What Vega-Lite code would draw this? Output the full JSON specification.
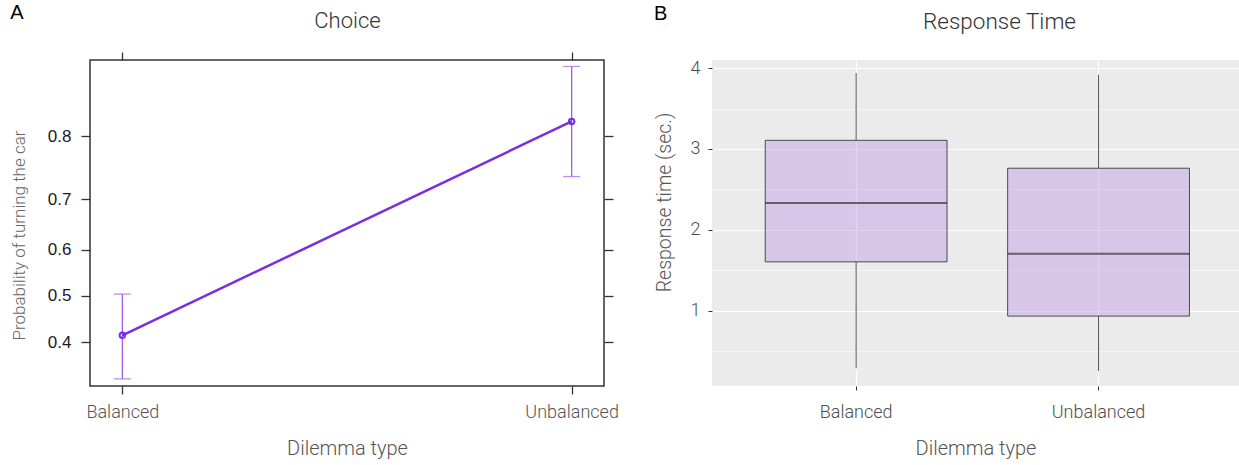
{
  "$schema": "https://vega.github.io/schema/vega-lite/v6.json",
  "background": "white",
  "padding": {"left": 9, "top": 2, "right": 0, "bottom": 0},
  "spacing": 34,
  "config": {
    "font": "Roboto",
    "axis": {"domain": false, "labelFont": "Roboto", "titleFont": "Roboto"}
  },
  "hconcat": [
    {
      "width": 514,
      "height": 326,
      "title": {"text": "A", "anchor": "start", "frame": "bounds", "offset": -14, "font": "Liberation Sans", "fontSize": 20, "fontWeight": "normal", "color": "#000000"},
      "view": {"stroke": "#333333", "strokeWidth": 1.5},
      "data": {"values": [
        {"type": "Balanced", "fit": 0.415, "lower": 0.327, "upper": 0.504},
        {"type": "Unbalanced", "fit": 0.820, "lower": 0.738, "upper": 0.881}
      ]},
      "layer": [
        {
          "mark": {"type": "rule", "color": "#a15ce8", "strokeWidth": 1.3},
          "encoding": {
            "x": {"field": "type", "type": "nominal", "sort": null, "scale": {"type": "point", "padding": 0.072},
              "axis": {"orient": "top", "labels": false, "ticks": true, "tickSize": 8, "tickColor": "#333333", "tickWidth": 1.3, "domain": false, "grid": false, "title": "Choice", "titleFontSize": 22, "titleFontWeight": 300, "titleColor": "#333333", "titlePadding": 19}},
            "y": {"field": "lower", "type": "quantitative",
              "scale": {"domain": [0.3126, 0.4061, 0.5067, 0.6071, 0.6991, 0.7773, 0.8400, 0.8876], "range": [{"expr": "height"}, {"expr": "height*6/7"}, {"expr": "height*5/7"}, {"expr": "height*4/7"}, {"expr": "height*3/7"}, {"expr": "height*2/7"}, {"expr": "height/7"}, 0], "zero": false, "nice": false},
              "axis": {"orient": "right", "values": [0.4, 0.5, 0.6, 0.7, 0.8], "labels": false, "tickSize": 9, "tickColor": "#333333", "tickWidth": 1.3, "domain": false, "grid": false, "title": null}},
            "y2": {"field": "upper"}
          }
        },
        {
          "mark": {"type": "tick", "orient": "horizontal", "size": 17, "thickness": 1.3, "color": "#a15ce8"},
          "encoding": {
            "x": {"field": "type", "type": "nominal", "sort": null, "axis": null},
            "y": {"field": "lower", "type": "quantitative", "axis": null}
          }
        },
        {
          "mark": {"type": "tick", "orient": "horizontal", "size": 17, "thickness": 1.3, "color": "#a15ce8"},
          "encoding": {
            "x": {"field": "type", "type": "nominal", "sort": null, "axis": null},
            "y": {"field": "upper", "type": "quantitative", "axis": null}
          }
        },
        {
          "mark": {"type": "line", "color": "#7a2ee0", "strokeWidth": 2.5},
          "encoding": {
            "x": {"field": "type", "type": "nominal", "sort": null,
              "axis": {"orient": "bottom", "labelAngle": 0, "labelFontSize": 18, "labelFontWeight": 300, "labelColor": "#555555", "labelPadding": 9, "tickSize": 8, "tickColor": "#333333", "tickWidth": 1.3, "domain": false, "grid": false, "title": "Dilemma type", "titleFontSize": 20, "titleFontWeight": 300, "titleColor": "#555555", "titlePadding": 17}},
            "y": {"field": "fit", "type": "quantitative",
              "axis": {"orient": "left", "values": [0.4, 0.5, 0.6, 0.7, 0.8], "format": ".1f", "labelFont": "Liberation Sans", "labelFontSize": 17, "labelColor": "#1a1a1a", "labelPadding": 10, "tickSize": 9, "tickColor": "#333333", "tickWidth": 1.3, "domain": false, "grid": false, "title": "Probability of turning the car", "titleFontSize": 17, "titleFontWeight": 300, "titleColor": "#666666", "titlePadding": 19, "titleY": 175}}
          }
        },
        {
          "mark": {"type": "point", "filled": false, "color": "#7a2ee0", "strokeWidth": 2, "size": 30, "opacity": 1},
          "encoding": {
            "x": {"field": "type", "type": "nominal", "sort": null, "axis": null},
            "y": {"field": "fit", "type": "quantitative", "axis": null}
          }
        }
      ],
      "resolve": {"axis": {"x": "independent", "y": "independent"}}
    },
    {
      "width": 527,
      "height": 326,
      "title": {"text": "B", "anchor": "start", "frame": "bounds", "offset": -14, "font": "Liberation Sans", "fontSize": 20, "fontWeight": "normal", "color": "#000000"},
      "view": {"fill": "#EBEBEB", "stroke": null},
      "data": {"values": [
        {"type": "Balanced", "lo": 0.288, "q1": 1.605, "med": 2.333, "q3": 3.107, "hi": 3.94},
        {"type": "Unbalanced", "lo": 0.255, "q1": 0.934, "med": 1.704, "q3": 2.762, "hi": 3.917}
      ]},
      "layer": [
        {
          "mark": {"type": "rule", "color": "#555555", "strokeWidth": 1},
          "encoding": {
            "x": {"field": "type", "type": "nominal", "sort": null,
              "scale": {"type": "band", "paddingInner": 0.25, "paddingOuter": 0.212, "align": 0.518},
              "axis": {"orient": "top", "labels": false, "ticks": false, "domain": false, "grid": false, "title": "Response Time", "titleFontSize": 22.5, "titleFontWeight": 300, "titleColor": "#333333", "titlePadding": 27, "titleX": 287}},
            "y": {"field": "lo", "type": "quantitative",
              "scale": {"domain": [0.07, 4.1], "zero": false, "nice": false},
              "axis": {"orient": "right", "values": [0.5, 1.5, 2.5, 3.5], "labels": false, "ticks": false, "domain": false, "grid": true, "gridColor": "#ffffff", "gridWidth": 0.6, "title": null}},
            "y2": {"field": "q1"}
          }
        },
        {
          "mark": {"type": "rule", "color": "#555555", "strokeWidth": 1},
          "encoding": {
            "x": {"field": "type", "type": "nominal", "sort": null, "axis": null},
            "y": {"field": "q3", "type": "quantitative", "axis": null},
            "y2": {"field": "hi"}
          }
        },
        {
          "mark": {"type": "bar", "fill": "#b98fe0", "fillOpacity": 0.4, "stroke": "#333333", "strokeOpacity": 0.85, "strokeWidth": 1},
          "encoding": {
            "x": {"field": "type", "type": "nominal", "sort": null,
              "axis": {"orient": "bottom", "labelAngle": 0, "labelFontSize": 18, "labelFontWeight": 300, "labelColor": "#4d4d4d", "labelPadding": 13, "tickSize": 4, "tickColor": "#333333", "tickWidth": 1, "bandPosition": 0.5, "domain": false, "grid": true, "gridColor": "#ffffff", "gridWidth": 1.2, "title": "Dilemma type", "titleFontSize": 20, "titleFontWeight": 300, "titleColor": "#555555", "titlePadding": 17}},
            "y": {"field": "q1", "type": "quantitative",
              "axis": {"orient": "left", "values": [1, 2, 3, 4], "labelFontSize": 18, "labelFontWeight": 300, "labelColor": "#4d4d4d", "labelPadding": 8, "tickSize": 4, "tickColor": "#333333", "tickWidth": 1, "domain": false, "grid": true, "gridColor": "#ffffff", "gridWidth": 1.2, "title": "Response time (sec.)", "titleFontSize": 19.5, "titleFontWeight": 300, "titleColor": "#555555", "titlePadding": 16, "titleY": 142}},
            "y2": {"field": "q3"}
          }
        },
        {
          "mark": {"type": "tick", "color": "#333333", "thickness": 2},
          "encoding": {
            "x": {"field": "type", "type": "nominal", "sort": null, "axis": null},
            "y": {"field": "med", "type": "quantitative", "axis": null}
          }
        }
      ],
      "resolve": {"axis": {"x": "independent", "y": "independent"}}
    }
  ]
}
